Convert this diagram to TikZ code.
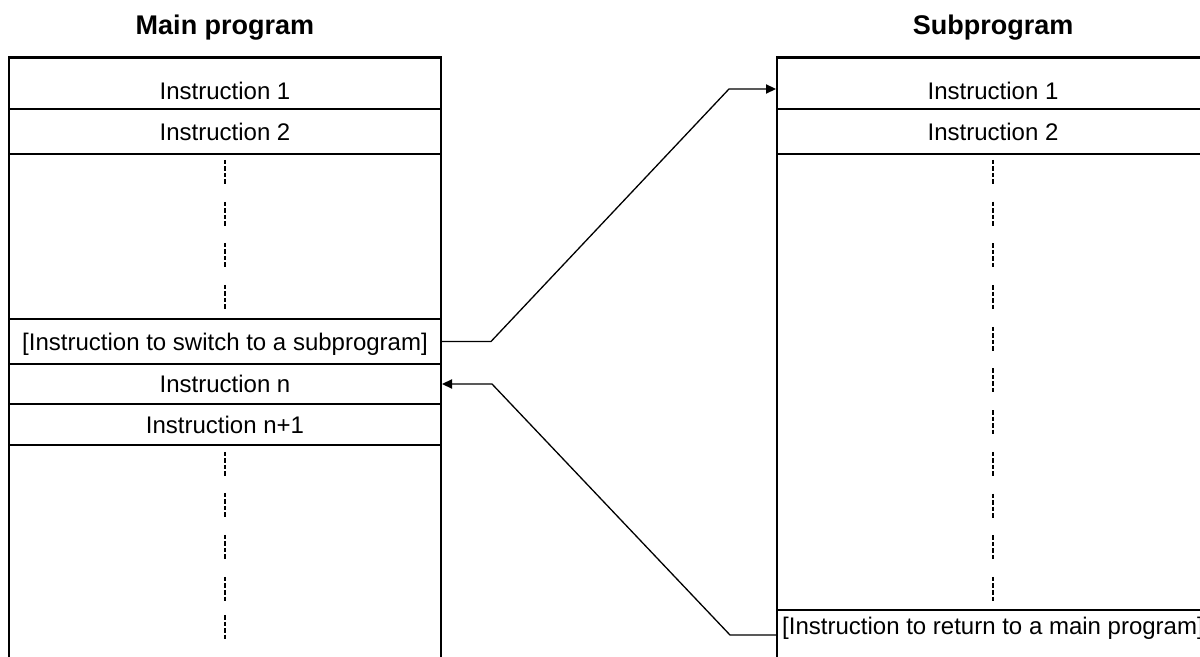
\documentclass[tikz,border=0pt]{standalone}
\usepackage{fontspec}
\setmainfont{Liberation Sans}
\usetikzlibrary{arrows.meta}

\tikzset{
  instr/.style={draw, line width=1pt, minimum width=216pt, inner sep=0pt,
    text height=8.6pt, text depth=0pt, anchor=north,
    font=\fontsize{12}{14}\selectfont},
  progbox/.style={line width=1pt},
  ellip/.style={line width=1.1pt, dash pattern=on 2.25pt off 1pt},
  link/.style={line width=0.65pt, -{Triangle[length=5pt,width=4.6pt]}},
  heading/.style={anchor=base, font=\fontsize{13.5}{16}\selectfont\bfseries},
}

\begin{document}
\begin{tikzpicture}[x=0.5pt,y=-0.5pt,line cap=butt]
  \useasboundingbox (0,0) rectangle (1200,657);
  \clip (0,0) rectangle (1200,657);

  % headings
  \node[heading] (tmain) at (225,35) {Main program};
  \node[heading] (tsub) at (993,35) {Subprogram};

  % main program
  \draw[progbox] (9,700) -- (9,57) -- (441,57) -- (441,700);
  \node[instr, minimum height=25.5pt, text height=16.5pt] (m1) at (225,57) {Instruction 1};
  \node[instr, minimum height=22.5pt] (m2) at (225,108) {Instruction 2};
  \node[instr, minimum height=22.5pt] (m3) at (225,318) {[Instruction to switch to a subprogram]};
  \node[instr, minimum height=20pt] (m4) at (225,363) {Instruction n};
  \node[instr, minimum height=20.5pt] (m5) at (225,403) {Instruction n+1};
  \foreach \y in {160,202,243,285,452,493,535,577,615}
    \draw[ellip] (225,\y) -- ++(0,24);

  % subprogram
  \draw[progbox] (777,700) -- (777,57) -- (1209,57) -- (1209,700);
  \node[instr, minimum height=25.5pt, text height=16.5pt] (s1) at (993,57) {Instruction 1};
  \node[instr, minimum height=22.5pt] (s2) at (993,108) {Instruction 2};
  \node[instr, minimum height=25pt, text depth=9.6pt] (s3) at (993,609) {[Instruction to return to a main program]};
  \foreach \k in {0,...,10}
    \draw[ellip] (993,{160+41.7*\k}) -- ++(0,24);

  % jumps
  \draw[link] (m3.east) -- ++(49,0) -- ([xshift=-23.5pt,yshift=-2.75pt]s1.west) -- ([yshift=-2.75pt]s1.west);
  \draw[link] (s3.west) -- ++(-46,0) -- ([xshift=25pt]m4.east) -- (m4.east);
\end{tikzpicture}
\end{document}
